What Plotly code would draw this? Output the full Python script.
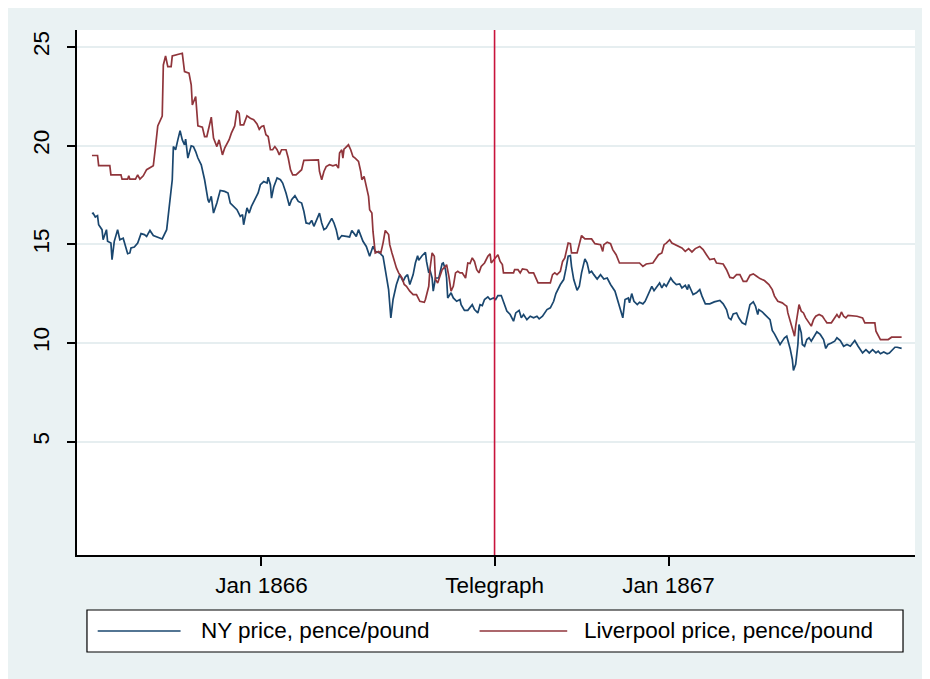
import pandas as pd
import plotly.graph_objects as go

# day offsets from 1 Jan 1866, and prices (pence/pound)
ny_days = [
    -152, -151, -149, -147, -146, -143, -142, -140, -139, -138,
    -135, -134, -132, -129, -127, -124, -122, -120, -118, -117,
    -114, -111, -108, -105, -103, -100, -97, -93, -89, -85,
    -82, -80, -79, -77, -75, -73, -71, -69, -68, -66,
    -63, -61, -59, -57, -54, -51, -48, -47, -45, -43,
    -40, -37, -33, -30, -28, -25, -22, -19, -17, -16,
    -13, -11, -9, -6, -3, -1, 2, 5, 6, 8,
    9, 11, 14, 17, 19, 22, 25, 27, 30, 33,
    36, 38, 40, 43, 45, 47, 49, 52, 54, 56,
    58, 60, 63, 65, 67, 69, 72, 76, 79, 81,
    84, 85, 87, 89, 91, 94, 97, 100, 102, 106,
    109, 111, 114, 116, 118, 121, 124, 127, 129, 131,
    133, 136, 138, 140, 141, 144, 147, 148, 150, 151,
    153, 154, 156, 159, 162, 163, 165, 166, 167, 170,
    172, 175, 178, 179, 182, 185, 188, 189, 191, 194,
    196, 198, 200, 203, 205, 208, 210, 212, 215, 218,
    220, 223, 226, 228, 231, 233, 235, 238, 241, 244,
    247, 249, 252, 256, 259, 262, 264, 268, 271, 273,
    275, 277, 278, 280, 283, 285, 287, 290, 292, 294,
    296, 298, 301, 304, 307, 310, 313, 317, 319, 321,
    324, 326, 329, 330, 332, 334, 337, 339, 342, 344,
    346, 348, 350, 352, 354, 357, 359, 361, 363, 365,
    367, 369, 372, 375, 377, 380, 382, 383, 387, 390,
    393, 395, 398, 402, 406, 411, 414, 417, 419, 421,
    423, 426, 428, 431, 434, 436, 438, 441, 443, 445,
    446, 449, 451, 453, 456, 458, 460, 463, 465, 467,
    469, 471, 474, 476, 477, 479, 481, 482, 484, 485,
    487, 489, 491, 493, 496, 498, 501, 504, 506, 508,
    511, 514, 516, 519, 522, 525, 528, 530, 532, 535,
    539, 542, 545, 548, 551, 553, 555, 558, 561, 563,
    565, 568, 570, 574,
]
ny_price = [
    16.55, 16.58, 16.38, 16.45, 15.99, 15.74, 15.23, 15.65, 15.74, 15.15,
    15.06, 14.22, 15.15, 15.74, 15.23, 15.31, 14.89, 14.52, 14.56, 14.81,
    14.86, 15.06, 15.54, 15.49, 15.40, 15.70, 15.44, 15.37, 15.27, 15.74,
    17.09, 18.27, 19.95, 19.79, 20.29, 20.76, 20.29, 20.04, 20.33, 19.37,
    19.99, 19.95, 19.70, 19.37, 19.03, 18.27, 17.26, 17.12, 17.43, 16.58,
    17.09, 17.73, 17.68, 17.60, 17.09, 16.92, 16.75, 16.41, 16.50, 15.99,
    16.84, 16.58, 16.92, 17.26, 17.60, 18.02, 18.18, 18.10, 18.40, 18.02,
    17.34, 17.90, 18.36, 18.27, 18.10, 17.60, 16.95, 17.26, 17.46, 17.17,
    17.09, 16.67, 16.08, 16.04, 16.21, 15.91, 16.16, 16.58, 16.08, 15.74,
    15.82, 16.04, 16.31, 16.08, 15.74, 15.23, 15.44, 15.40, 15.37, 15.70,
    15.49, 15.40, 15.74, 15.44, 15.15, 14.89, 14.39, 14.90, 14.64, 14.56,
    14.39, 13.71, 12.70, 11.27, 12.20, 12.96, 13.46, 13.12, 13.35, 13.46,
    12.96, 13.46, 14.05, 14.42, 14.19, 14.42, 14.59, 14.13, 13.55, 13.71,
    13.29, 12.62, 13.29, 13.29, 14.02, 14.05, 13.71, 13.29, 12.28, 12.54,
    12.28, 12.11, 12.20, 11.94, 11.65, 11.65, 11.86, 11.94, 11.69, 11.52,
    11.94, 11.89, 12.20, 12.33, 12.20, 12.28, 12.20, 12.40, 12.40, 11.86,
    11.61, 11.44, 11.10, 11.52, 11.65, 11.27, 11.44, 11.18, 11.35, 11.27,
    11.35, 11.22, 11.35, 11.69, 11.78, 12.11, 12.50, 12.96, 13.21, 13.75,
    14.39, 14.42, 13.88, 13.21, 12.67, 12.87, 13.55, 14.26, 14.05, 13.55,
    13.63, 13.46, 13.24, 13.46, 13.24, 13.29, 12.96, 12.62, 12.20, 11.86,
    11.27, 12.20, 12.28, 12.03, 12.50, 12.11, 11.94, 12.06, 11.98, 12.11,
    12.37, 12.54, 12.87, 12.65, 12.79, 13.04, 12.79, 12.99, 12.87, 13.09,
    13.29, 13.12, 12.96, 12.99, 12.79, 12.92, 12.70, 12.96, 12.45, 12.54,
    12.70, 12.37, 11.98, 11.98, 12.08, 12.15, 11.98, 11.69, 11.27, 11.18,
    11.47, 11.52, 11.27, 11.02, 10.93, 11.44, 11.94, 12.08, 11.86, 11.44,
    11.69, 11.57, 11.44, 11.35, 11.18, 10.63, 10.46, 10.09, 9.92, 10.09,
    10.26, 10.34, 9.72, 9.16, 8.60, 8.91, 9.92, 10.93, 10.51, 9.92,
    9.83, 10.17, 10.26, 10.09, 10.34, 10.56, 10.43, 10.17, 9.72, 9.92,
    10.00, 10.09, 10.26, 10.12, 9.83, 9.92, 9.83, 10.00, 10.12, 9.83,
    9.49, 9.66, 9.49, 9.66, 9.49, 9.58, 9.45, 9.54, 9.45, 9.49,
    9.62, 9.78, 9.78, 9.72,
]

lp_days = [
    -152, -147, -146, -136, -135, -126, -125, -120, -119, -118,
    -113, -111, -109, -106, -103, -97, -95, -93, -89, -88,
    -86, -84, -81, -80, -71, -69, -65, -63, -62, -59,
    -57, -53, -51, -49, -45, -43, -40, -38, -35, -33,
    -29, -27, -24, -22, -20, -19, -16, -13, -10, -7,
    -4, -2, 0, 2, 4, 6, 8, 10, 12, 14,
    16, 18, 22, 24, 26, 28, 31, 34, 36, 38,
    51, 52, 54, 56, 58, 61, 64, 67, 69, 70,
    72, 73, 74, 75, 78, 80, 82, 84, 87, 89,
    90, 92, 94, 96, 97, 99, 100, 102, 105, 107,
    109, 111, 114, 115, 117, 119, 121, 123, 126, 128,
    130, 133, 136, 139, 142, 146, 147, 150, 151, 153,
    155, 156, 158, 160, 162, 165, 166, 168, 170, 172,
    174, 176, 178, 180, 183, 185, 187, 189, 191, 193,
    195, 197, 200, 203, 205, 206, 209, 212, 214, 216,
    217, 226, 227, 230, 232, 234, 238, 240, 244, 246,
    248, 259, 261, 263, 265, 268, 270, 272, 274, 275,
    277, 278, 283, 285, 287, 290, 296, 299, 304, 306,
    307, 310, 313, 315, 318, 321, 339, 342, 345, 351,
    354, 356, 359, 361, 363, 366, 368, 371, 374, 377,
    380, 383, 386, 389, 393, 396, 399, 402, 406, 408,
    414, 417, 420, 423, 426, 429, 432, 435, 438, 441,
    444, 447, 451, 455, 458, 460, 463, 467, 469, 471,
    472, 474, 476, 478, 479, 481, 482, 484, 486, 488,
    490, 493, 495, 497, 500, 503, 505, 507, 511, 513,
    516, 518, 520, 522, 524, 526, 534, 539, 541, 550,
    551, 555, 562, 565, 574,
]
lp_price = [
    19.50, 19.50, 18.99, 18.99, 18.52, 18.52, 18.30, 18.30, 18.47, 18.30,
    18.30, 18.52, 18.30, 18.47, 18.78, 18.98, 19.95, 21.00, 21.50, 24.09,
    24.54, 24.00, 24.00, 24.54, 24.68, 23.75, 23.67, 23.08, 22.06, 22.49,
    21.00, 20.94, 20.46, 20.46, 21.44, 20.38, 19.95, 20.29, 19.53, 19.87,
    20.30, 20.63, 21.00, 21.78, 21.64, 21.05, 21.05, 21.51, 21.39, 21.31,
    21.10, 20.83, 20.97, 21.00, 20.55, 20.46, 19.79, 19.79, 19.95, 19.79,
    19.53, 19.79, 19.79, 19.37, 18.78, 18.52, 18.52, 18.69, 18.78, 19.25,
    19.28, 18.69, 18.27, 18.69, 18.94, 19.03, 18.98, 19.03, 18.86, 19.62,
    19.79, 19.37, 19.82, 19.87, 20.04, 19.79, 19.45, 19.37, 19.20, 18.69,
    18.27, 18.44, 17.93, 17.43, 16.75, 16.58, 15.65, 14.56, 14.64, 14.56,
    15.06, 15.70, 15.49, 14.98, 14.56, 14.13, 13.80, 13.55, 13.29, 12.96,
    12.87, 12.62, 12.45, 12.45, 12.11, 12.06, 12.20, 12.87, 13.71, 14.56,
    14.39, 13.21, 13.04, 13.38, 13.71, 13.88, 13.97, 13.38, 12.62, 12.87,
    13.55, 13.63, 13.55, 13.55, 13.29, 14.05, 14.02, 14.31, 14.13, 13.71,
    13.55, 13.88, 14.05, 14.39, 14.52, 14.05, 14.26, 14.47, 14.13, 13.97,
    13.55, 13.55, 13.71, 13.71, 13.55, 13.75, 13.71, 13.55, 13.55, 13.29,
    13.04, 13.04, 13.46, 13.55, 13.46, 13.63, 14.13, 14.31, 14.81, 15.06,
    15.03, 14.56, 14.56, 15.03, 15.44, 15.27, 15.27, 15.03, 14.98, 14.64,
    14.98, 15.10, 15.03, 14.73, 14.47, 14.05, 14.05, 13.88, 14.00, 14.05,
    14.34, 14.47, 14.56, 14.98, 15.06, 15.23, 15.06, 14.98, 14.89, 14.81,
    14.64, 14.78, 14.61, 14.78, 14.89, 14.73, 14.47, 14.22, 14.27, 14.05,
    14.00, 13.71, 13.32, 13.29, 13.46, 13.46, 13.12, 13.12, 13.43, 13.50,
    13.38, 13.26, 13.16, 12.96, 12.70, 12.37, 12.11, 12.03, 11.94, 11.86,
    11.52, 11.10, 10.68, 10.34, 10.85, 11.78, 11.94, 11.61, 11.52, 11.27,
    11.10, 10.85, 11.18, 11.35, 11.44, 11.35, 11.18, 11.02, 11.02, 11.18,
    11.44, 11.27, 11.57, 11.35, 11.27, 11.40, 11.35, 11.27, 11.02, 11.02,
    10.59, 10.17, 10.17, 10.29, 10.29,
]

base_date = pd.Timestamp("1866-01-01")
telegraph_date = "1866-07-29"
tick_dates = ["1866-01-01", telegraph_date, "1867-01-01"]
tick_labels = ["Jan 1866", "Telegraph", "Jan 1867"]
y_ticks = [5, 10, 15, 20, 25]

ny_dates = base_date + pd.to_timedelta(ny_days, unit="D")
lp_dates = base_date + pd.to_timedelta(lp_days, unit="D")

NAVY = "#1A476F"
MAROON = "#90353B"
BG = "#EAF2F3"
FONT = "Liberation Sans, Arial, sans-serif"

fig = go.Figure()
fig.add_trace(go.Scatter(x=ny_dates, y=ny_price, mode="lines",
                         line=dict(color=NAVY, width=1.7),
                         name="NY price, pence/pound"))
fig.add_trace(go.Scatter(x=lp_dates, y=lp_price, mode="lines",
                         line=dict(color=MAROON, width=1.7),
                         name="Liverpool price, pence/pound"))

# telegraph marker line
fig.add_shape(type="line", xref="x", yref="paper",
              x0=telegraph_date, x1=telegraph_date, y0=0, y1=1,
              line=dict(color="#C8143C", width=1.6))

# hand-made legend box underneath the axis
fig.add_shape(type="rect", xref="paper", yref="paper",
              x0=0.0119, x1=0.9857, y0=-0.1848, y1=-0.1048,
              line=dict(color="black", width=1.2), fillcolor="white", layer="below")
fig.add_shape(type="line", xref="paper", yref="paper",
              x0=0.0247, x1=0.1236, y0=-0.1448, y1=-0.1448,
              line=dict(color=NAVY, width=1.6))
fig.add_shape(type="line", xref="paper", yref="paper",
              x0=0.4804, x1=0.5850, y0=-0.1448, y1=-0.1448,
              line=dict(color=MAROON, width=1.6))
fig.add_annotation(xref="paper", yref="paper", x=0.1455, y=-0.1430,
                   xanchor="left", yanchor="middle", showarrow=False,
                   text="NY price, pence/pound", font=dict(size=22.5, color="black"))
fig.add_annotation(xref="paper", yref="paper", x=0.6025, y=-0.1430,
                   xanchor="left", yanchor="middle", showarrow=False,
                   text="Liverpool price, pence/pound", font=dict(size=22.5, color="black"))

fig.update_layout(
    width=930, height=679, autosize=False,
    margin=dict(l=69, r=23, t=22, b=132),
    paper_bgcolor=BG, plot_bgcolor="white",
    font=dict(family=FONT, size=22.5, color="black"),
    showlegend=False,
)
fig.update_xaxes(
    type="date", range=["1865-07-19 14:00", "1867-08-10"],
    tickvals=tick_dates, ticktext=tick_labels,
    showgrid=False, zeroline=False,
    showline=True, linecolor="black", linewidth=2,
    ticks="outside", ticklen=9, tickwidth=1.5, tickcolor="black",
    ticklabelstandoff=0,
)
fig.update_yaxes(
    range=[-0.75, 25.86], tickvals=y_ticks, tickangle=-90,
    showgrid=True, gridcolor="#E6EEF0", gridwidth=1.5, zeroline=False,
    showline=True, linecolor="black", linewidth=2,
    ticks="outside", ticklen=8, tickwidth=1.5, tickcolor="black",
    ticklabelstandoff=9,
)

fig.write_html("out.html")
